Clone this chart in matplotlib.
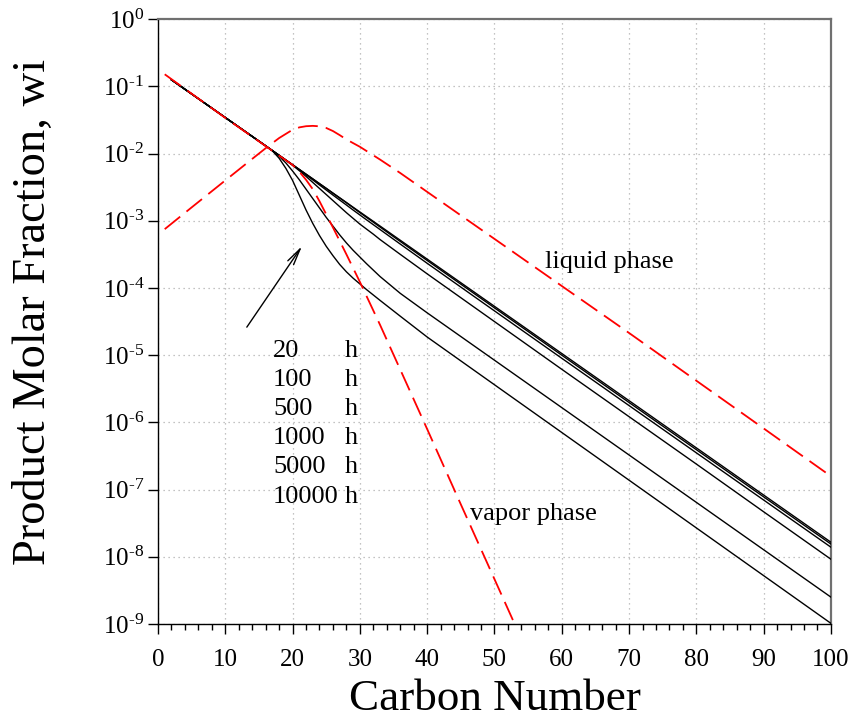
import matplotlib
matplotlib.use("Agg")
import matplotlib.pyplot as plt
from matplotlib.ticker import FixedLocator, MultipleLocator, NullLocator
import numpy as np

plt.rcParams['font.family'] = ['Liberation Serif', 'DejaVu Serif']
plt.rcParams['mathtext.fontset'] = 'custom'
plt.rcParams['mathtext.rm'] = 'Liberation Serif'
plt.rcParams['mathtext.it'] = 'Liberation Serif:italic'

# carbon numbers for the product curves
carbon = [2, 16, 17, 18, 19, 20, 21, 22, 23, 24, 25, 26, 27, 28, 29, 30, 31, 32, 33,
          36, 40, 50, 60, 70, 80, 90, 100]

# log10 of product molar fraction, one curve per run time
log_w_10000h = [-0.903, -1.886, -1.956, -2.026, -2.097, -2.167, -2.237, -2.307, -2.377,
                -2.448, -2.518, -2.588, -2.658, -2.728, -2.799, -2.869, -2.939, -3.009,
                -3.079, -3.290, -3.571, -4.273, -4.975, -5.677, -6.379, -7.081, -7.783]
log_w_5000h = [-0.903, -1.886, -1.956, -2.026, -2.097, -2.167, -2.237, -2.307, -2.377,
               -2.448, -2.518, -2.591, -2.662, -2.733, -2.806, -2.879, -2.951, -3.022,
               -3.094, -3.308, -3.591, -4.296, -5.000, -5.704, -6.406, -7.108, -7.810]
log_w_1000h = [-0.903, -1.886, -1.956, -2.026, -2.097, -2.167, -2.242, -2.317, -2.392,
               -2.468, -2.543, -2.618, -2.692, -2.766, -2.841, -2.914, -2.987, -3.059,
               -3.131, -3.347, -3.633, -4.341, -5.046, -5.750, -6.453, -7.155, -7.857]
log_w_500h = [-0.903, -1.886, -1.956, -2.028, -2.100, -2.175, -2.255, -2.340, -2.430,
              -2.520, -2.610, -2.700, -2.790, -2.880, -2.965, -3.050, -3.125, -3.200,
              -3.280, -3.500, -3.790, -4.500, -5.210, -5.915, -6.620, -7.330, -8.036]
log_w_100h = [-0.903, -1.886, -1.958, -2.040, -2.140, -2.260, -2.390, -2.530, -2.670,
              -2.810, -2.950, -3.080, -3.210, -3.330, -3.440, -3.540, -3.640, -3.735,
              -3.830, -4.080, -4.370, -5.075, -5.780, -6.485, -7.190, -7.895, -8.600]
log_w_20h = [-0.903, -1.886, -1.960, -2.070, -2.220, -2.400, -2.620, -2.840, -3.040,
             -3.220, -3.380, -3.520, -3.650, -3.760, -3.855, -3.940, -4.025, -4.105,
             -4.185, -4.420, -4.730, -5.440, -6.150, -6.860, -7.570, -8.280, -8.990]

# liquid phase
liq_c = [1, 5, 10, 14, 16, 18, 20, 21, 22, 23, 24, 25, 26, 27, 28, 30, 33, 36, 40,
         50, 60, 70, 80, 90, 100]
liq_w = [7.50e-4, 1.58e-3, 3.98e-3, 8.32e-3, 1.20e-2, 1.70e-2, 2.26e-2, 2.45e-2, 2.55e-2,
         2.58e-2, 2.54e-2, 2.40e-2, 2.16e-2, 1.88e-2, 1.62e-2, 1.26e-2, 8.13e-3, 5.13e-3,
         2.69e-3, 5.37e-4, 1.07e-4, 2.14e-5, 4.17e-6, 8.13e-7, 1.58e-7]

# vapor phase
vap_c = [1, 10, 16, 18, 20, 21, 22, 23, 24, 26, 28, 30, 33, 40, 45, 54]
vap_w = [1.51e-1, 3.39e-2, 1.29e-2, 9.33e-3, 6.76e-3, 5.37e-3, 4.07e-3, 2.95e-3, 1.95e-3,
         7.94e-4, 3.16e-4, 1.23e-4, 2.82e-5, 7.94e-7, 6.03e-8, 6.0e-10]

times = ['20', '100', '500', '1000', '5000', '10000']
curves = [log_w_20h, log_w_100h, log_w_500h, log_w_1000h, log_w_5000h, log_w_10000h]

fig = plt.figure(figsize=(8.54, 7.21), dpi=100)
ax = fig.add_axes([0.185, 0.1345, 0.788, 0.839])

for lw_ in curves:
    ax.plot(carbon, 10.0 ** np.array(lw_), color='black', lw=1.0, zorder=3)
ax.plot(liq_c, liq_w, color='#ff0000', lw=1.3, dashes=(11, 4.5), zorder=4)
ax.plot(vap_c, vap_w, color='#ff0000', lw=1.3, dashes=(11, 4.5), zorder=4)

ax.set_yscale('log')
ax.set_xlim(0, 100)
ax.set_ylim(1e-9, 1)

ax.xaxis.set_major_locator(MultipleLocator(10))
ax.xaxis.set_minor_locator(MultipleLocator(2))
decades = list(range(-9, 1))
ax.yaxis.set_major_locator(FixedLocator([10.0 ** e for e in decades]))
ax.yaxis.set_minor_locator(NullLocator())
ax.set_yticklabels([r'$\mathregular{10^{\text{%d}}}$' % e for e in decades])

ax.tick_params(axis='both', which='both', direction='out', top=False, right=False,
               labelsize=18)
ax.tick_params(axis='both', which='major', length=7, width=1)
ax.tick_params(axis='x', which='minor', length=4, width=1)
ax.tick_params(axis='x', which='major', pad=11)
ax.tick_params(axis='y', which='major', pad=3)

ax.grid(True, which='major', color='#b0b0b0', lw=0.9, linestyle=(0, (1, 3)))
for s in ['top', 'right']:
    ax.spines[s].set_color('#707070')
    ax.spines[s].set_linewidth(1.6)
for s in ['left', 'bottom']:
    ax.spines[s].set_color('black')
    ax.spines[s].set_linewidth(1.0)

ax.set_xlabel('Carbon Number', fontsize=32.5, labelpad=6)
ax.set_ylabel('Product Molar Fraction, wi', fontsize=33.5)
ax.yaxis.set_label_coords(-0.153, 0.516)

ax.text(57.5, 10 ** -3.616, 'liquid phase', fontsize=19, va='center', ha='left')
ax.text(46.4, 10 ** -7.366, 'vapor phase', fontsize=19, va='center', ha='left')

for i, t in enumerate(times):
    yy = 0.452 - i * 0.0483
    ax.text(0.171, yy, t, transform=ax.transAxes, fontsize=19, va='center', ha='left')
    ax.text(0.278, yy, 'h', transform=ax.transAxes, fontsize=19, va='center', ha='left')

ax.annotate('', xy=(21.4, 10 ** -3.378), xytext=(13.2, 10 ** -4.583),
            arrowprops=dict(arrowstyle='->,head_length=1.2,head_width=0.25',
                            color='black', lw=1.0, shrinkA=0, shrinkB=0))

fig.savefig('out.png', dpi=100)
